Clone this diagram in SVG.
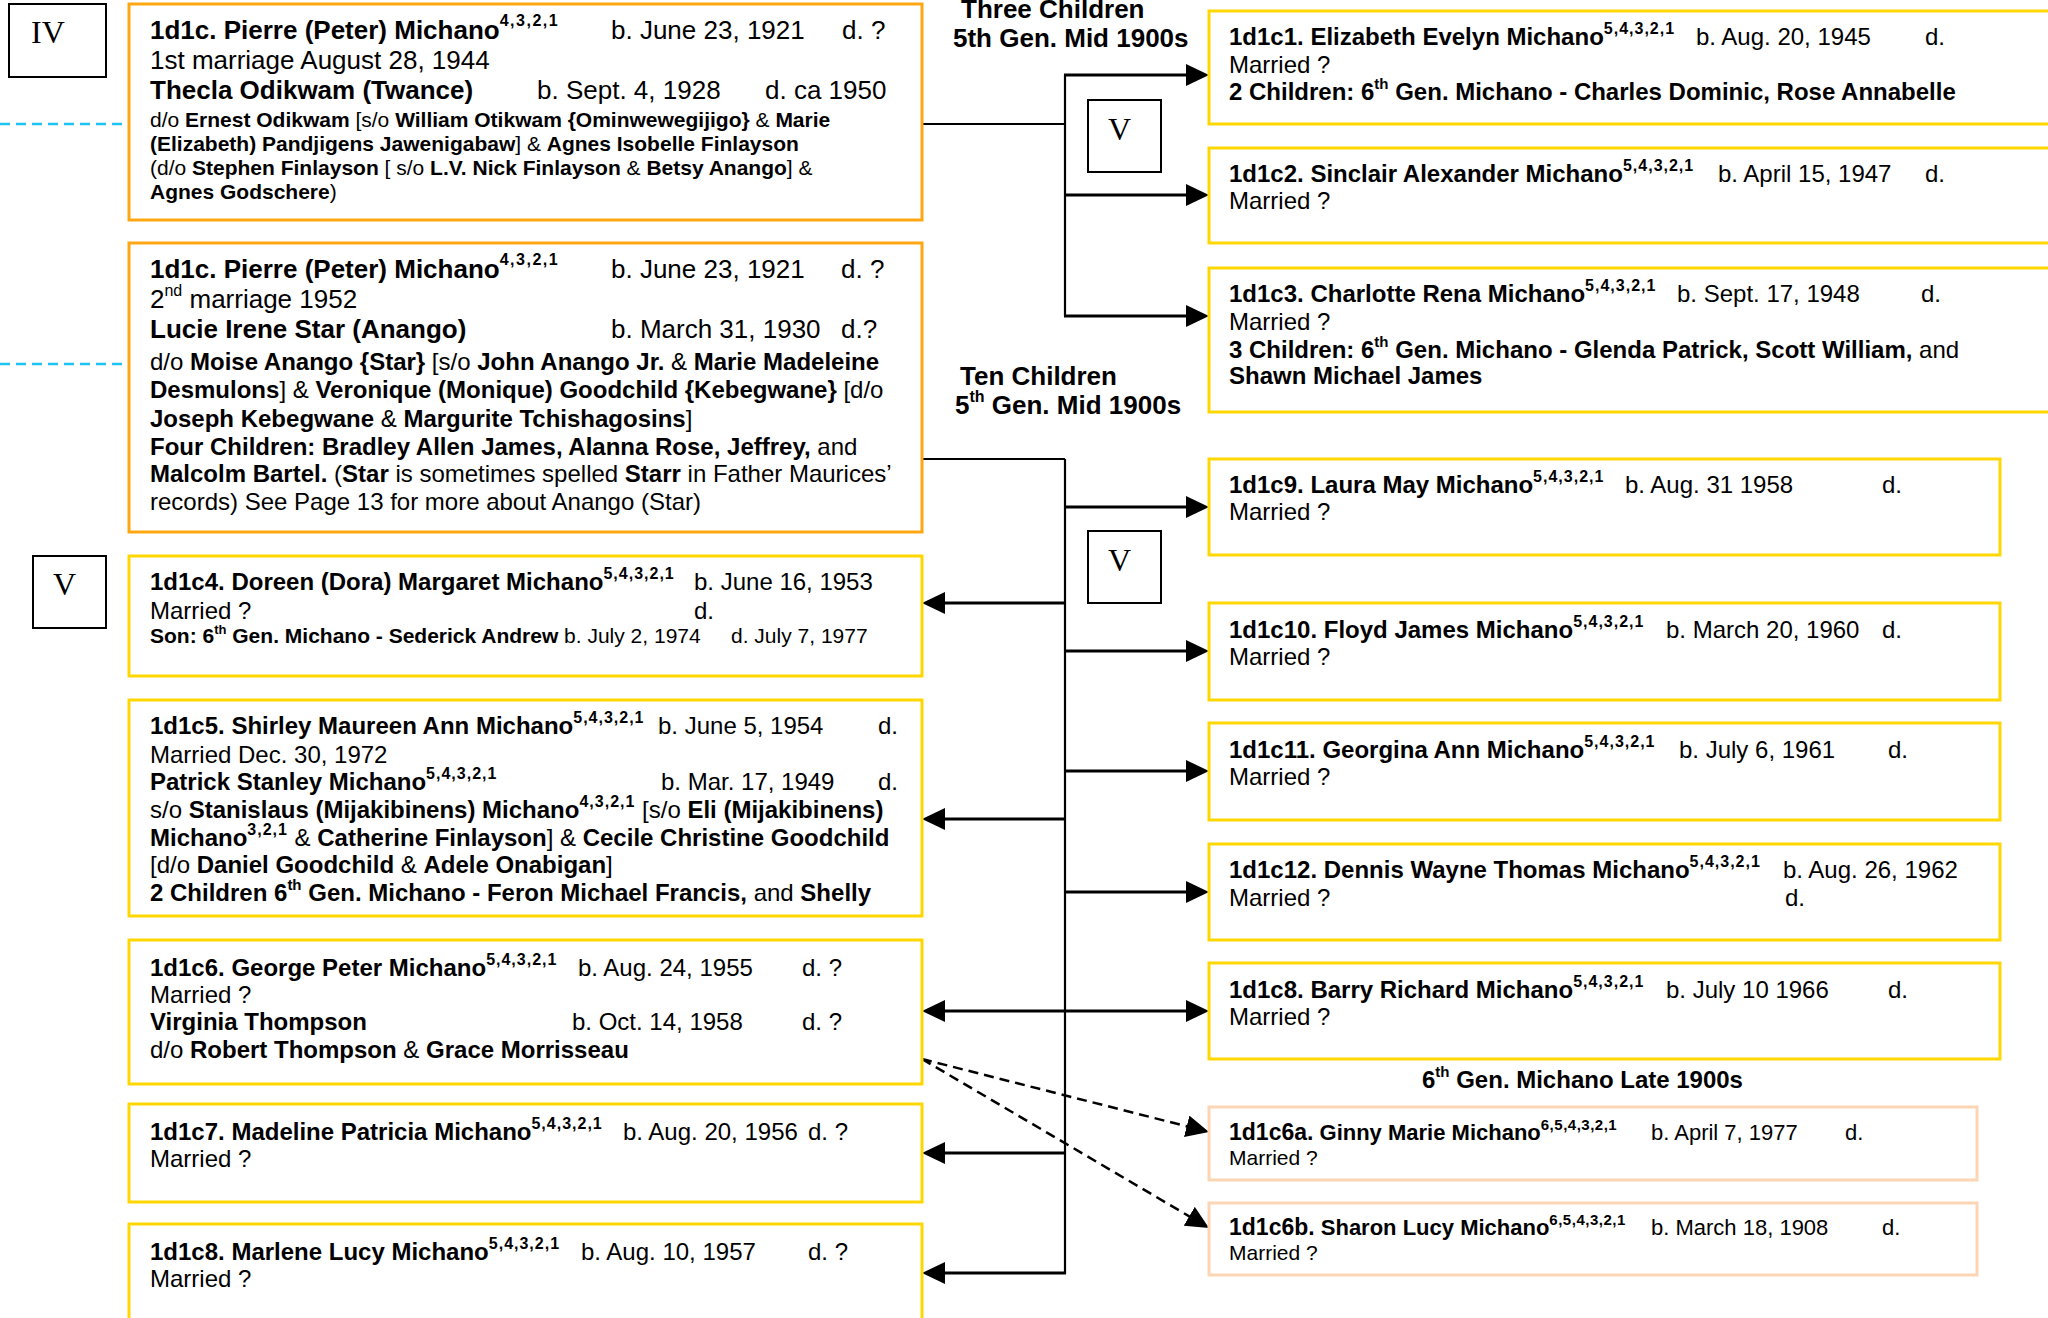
<svg xmlns="http://www.w3.org/2000/svg" width="2048" height="1318" viewBox="0 0 2048 1318">
<style>
text{font-family:"Liberation Sans",Arial,sans-serif;fill:#000}
.b{font-weight:700}
.s26{font-size:26px}
.s24{font-size:24px}
.s21{font-size:21px}
.sp{font-weight:700;font-size:16px;letter-spacing:1.5px}
.sq{font-weight:700;font-size:16px;letter-spacing:1px}
.ss{font-weight:700;font-size:15px;letter-spacing:0.5px}
.hd{font-weight:700;font-size:26px}
.rom{font-family:"Liberation Serif","Times New Roman",serif;font-size:32px}
.nd rect{fill:#fff;stroke-width:3}
.or{stroke:#FFA614}
.ye{stroke:#FFD700}
.pe{stroke:#FCD5B4}
.rb{fill:#fff;stroke:#000;stroke-width:2}
.ln{stroke:#000;stroke-width:2.2;fill:none}
.ar{stroke:#000;stroke-width:3;fill:none;marker-end:url(#ah)}
.dl{stroke:#000;stroke-width:2.5;fill:none;stroke-dasharray:10 6;marker-end:url(#ah)}
.cy{stroke:#1EC3F0;stroke-width:2.5;fill:none;stroke-dasharray:10 6}
</style>
<defs>
<marker id="ah" viewBox="0 0 23 22" refX="13" refY="11" markerWidth="23" markerHeight="22" markerUnits="userSpaceOnUse" orient="auto-start-reverse"><path d="M0,0 L23,11 L0,22 z" fill="#000"/></marker>
</defs>
<rect width="2048" height="1318" fill="#fff"/>

<g id="labels">
<g id="lbl-IV"><rect class="rb" x="9" y="4" width="97" height="73"/><text class="rom" x="31" y="43">IV</text></g>
<g id="lbl-V1"><rect class="rb" x="33" y="556" width="73" height="72"/><text class="rom" x="53" y="595">V</text></g>
<g id="lbl-V2"><rect class="rb" x="1088" y="100" width="73" height="72"/><text class="rom" x="1108" y="140">V</text></g>
<g id="lbl-V3"><rect class="rb" x="1088" y="531" width="73" height="72"/><text class="rom" x="1108" y="571">V</text></g>
<text class="hd" x="961" y="18">Three Children</text>
<text class="hd" x="953" y="47">5th Gen. Mid 1900s</text>
<text class="hd" x="960" y="385">Ten Children</text>
<text class="hd" x="955" y="414">5<tspan font-size="16" dy="-12">th</tspan><tspan dy="12"> Gen. Mid 1900s</tspan></text>
<text class="b s24" x="1422" y="1088">6<tspan font-size="15" dy="-11">th</tspan><tspan dy="11"> Gen. Michano Late 1900s</tspan></text>
</g>

<g id="connectors">
<line class="cy" x1="0" y1="124" x2="128" y2="124"/>
<line class="cy" x1="0" y1="364" x2="128" y2="364"/>
<line class="ln" x1="922" y1="124" x2="1065" y2="124"/>
<line class="ln" x1="1065" y1="75" x2="1065" y2="316"/>
<line class="ar" x1="1064" y1="75" x2="1199" y2="75"/>
<line class="ar" x1="1065" y1="195" x2="1199" y2="195"/>
<line class="ar" x1="1064" y1="316" x2="1199" y2="316"/>
<line class="ln" x1="922" y1="459" x2="1065" y2="459"/>
<line class="ln" x1="1065" y1="459" x2="1065" y2="1274"/>
<line class="ar" x1="1065" y1="507" x2="1199" y2="507"/>
<line class="ar" x1="1065" y1="651" x2="1199" y2="651"/>
<line class="ar" x1="1065" y1="771" x2="1199" y2="771"/>
<line class="ar" x1="1065" y1="892" x2="1199" y2="892"/>
<line class="ar" x1="932" y1="1011" x2="1199" y2="1011" style="marker-start:url(#ah)"/>
<line class="ar" x1="1065" y1="603" x2="932" y2="603"/>
<line class="ar" x1="1065" y1="819" x2="932" y2="819"/>
<line class="ar" x1="1065" y1="1153" x2="932" y2="1153"/>
<line class="ar" x1="1066" y1="1273" x2="932" y2="1273"/>
<line class="dl" x1="922" y1="1059" x2="1199.3" y2="1129.5"/>
<line class="dl" x1="922" y1="1059" x2="1200.4" y2="1222.9"/>
</g>

<g id="n-1d1c-m1" class="nd">
<rect class="or" x="129" y="4" width="793" height="216"/>
<text class="s26" y="39"><tspan x="150" class="b">1d1c. Pierre (Peter) Michano</tspan><tspan class="sp" dy="-13">4,3,2,1</tspan><tspan x="611" dy="13">b. June 23, 1921</tspan><tspan x="842">d. ?</tspan></text>
<text class="s26" x="150" y="69">1st marriage August 28, 1944</text>
<text class="s26" y="99"><tspan x="150" class="b">Thecla Odikwam (Twance)</tspan><tspan x="537">b. Sept. 4, 1928</tspan><tspan x="765">d. ca 1950</tspan></text>
<text class="s21" x="150" y="127">d/o <tspan class="b">Ernest Odikwam</tspan> [s/o <tspan class="b">William Otikwam {Ominwewegijigo}</tspan> &amp; <tspan class="b">Marie</tspan></text>
<text class="s21" x="150" y="151"><tspan class="b">(Elizabeth) Pandjigens Jawenigabaw</tspan>] &amp; <tspan class="b">Agnes Isobelle Finlayson</tspan></text>
<text class="s21" x="150" y="175">(d/o <tspan class="b">Stephen Finlayson</tspan> [ s/o <tspan class="b">L.V. Nick Finlayson</tspan> &amp; <tspan class="b">Betsy Anango</tspan>] &amp;</text>
<text class="s21" x="150" y="199"><tspan class="b">Agnes Godschere</tspan>)</text>
</g>

<g id="n-1d1c-m2" class="nd">
<rect class="or" x="129" y="243" width="793" height="289"/>
<text class="s26" y="278"><tspan x="150" class="b">1d1c. Pierre (Peter) Michano</tspan><tspan class="sp" dy="-13">4,3,2,1</tspan><tspan x="611" dy="13">b. June 23, 1921</tspan><tspan x="841">d. ?</tspan></text>
<text class="s26" x="150" y="308">2<tspan font-size="16" dy="-12">nd</tspan><tspan dy="12"> marriage 1952</tspan></text>
<text class="s26" y="338"><tspan x="150" class="b">Lucie Irene Star (Anango)</tspan><tspan x="611">b. March 31, 1930</tspan><tspan x="841">d.?</tspan></text>
<text class="s24" x="150" y="370">d/o <tspan class="b">Moise Anango {Star}</tspan> [s/o <tspan class="b">John Anango Jr.</tspan> &amp; <tspan class="b">Marie Madeleine</tspan></text>
<text class="s24" x="150" y="398"><tspan class="b">Desmulons</tspan>] &amp; <tspan class="b">Veronique (Monique) Goodchild {Kebegwane}</tspan> [d/o</text>
<text class="s24" x="150" y="427"><tspan class="b">Joseph Kebegwane</tspan> &amp; <tspan class="b">Margurite Tchishagosins</tspan>]</text>
<text class="s24" x="150" y="455"><tspan class="b">Four Children: Bradley Allen James, Alanna Rose, Jeffrey,</tspan> and</text>
<text class="s24" x="150" y="482"><tspan class="b">Malcolm Bartel.</tspan> (<tspan class="b">Star</tspan> is sometimes spelled <tspan class="b">Starr</tspan> in Father Maurices’</text>
<text class="s24" x="150" y="510">records) See Page 13 for more about Anango (Star)</text>
</g>

<g id="n-1d1c4" class="nd">
<rect class="ye" x="129" y="556" width="793" height="120"/>
<text class="s24" y="590"><tspan x="150" class="b">1d1c4. Doreen (Dora) Margaret Michano</tspan><tspan class="sq" dy="-11">5,4,3,2,1</tspan><tspan x="694" dy="11">b. June 16, 1953</tspan></text>
<text class="s24" y="619"><tspan x="150">Married ?</tspan><tspan x="694">d.</tspan></text>
<text class="s21" y="643"><tspan x="150" class="b">Son: 6</tspan><tspan class="b" font-size="13" dy="-9">th</tspan><tspan class="b" dy="9"> Gen. Michano - Sederick Andrew</tspan> b. July 2, 1974<tspan x="731">d. July 7, 1977</tspan></text>
</g>

<g id="n-1d1c5" class="nd">
<rect class="ye" x="129" y="700" width="793" height="216"/>
<text class="s24" y="734"><tspan x="150" class="b">1d1c5. Shirley Maureen Ann Michano</tspan><tspan class="sq" dy="-11">5,4,3,2,1</tspan><tspan x="658" dy="11">b. June 5, 1954</tspan><tspan x="878">d.</tspan></text>
<text class="s24" x="150" y="763">Married Dec. 30, 1972</text>
<text class="s24" y="790"><tspan x="150" class="b">Patrick Stanley Michano</tspan><tspan class="sq" dy="-11">5,4,3,2,1</tspan><tspan x="661" dy="11">b. Mar. 17, 1949</tspan><tspan x="878">d.</tspan></text>
<text class="s24" x="150" y="818">s/o <tspan class="b">Stanislaus (Mijakibinens) Michano</tspan><tspan class="sq" dy="-11">4,3,2,1</tspan><tspan dy="11"> [s/o </tspan><tspan class="b">Eli (Mijakibinens)</tspan></text>
<text class="s24" x="150" y="846"><tspan class="b">Michano</tspan><tspan class="sq" dy="-11">3,2,1</tspan><tspan dy="11"> &amp; </tspan><tspan class="b">Catherine Finlayson</tspan>] &amp; <tspan class="b">Cecile Christine Goodchild</tspan></text>
<text class="s24" x="150" y="873">[d/o <tspan class="b">Daniel Goodchild</tspan> &amp; <tspan class="b">Adele Onabigan</tspan>]</text>
<text class="s24" x="150" y="901"><tspan class="b">2 Children 6</tspan><tspan class="b" font-size="15" dy="-11">th</tspan><tspan class="b" dy="11"> Gen. Michano - Feron Michael Francis,</tspan> and <tspan class="b">Shelly</tspan></text>
</g>

<g id="n-1d1c6" class="nd">
<rect class="ye" x="129" y="940" width="793" height="144"/>
<text class="s24" y="976"><tspan x="150" class="b">1d1c6. George Peter Michano</tspan><tspan class="sq" dy="-11">5,4,3,2,1</tspan><tspan x="578" dy="11">b. Aug. 24, 1955</tspan><tspan x="802">d. ?</tspan></text>
<text class="s24" x="150" y="1003">Married ?</text>
<text class="s24" y="1030"><tspan x="150" class="b">Virginia Thompson</tspan><tspan x="572">b. Oct. 14, 1958</tspan><tspan x="802">d. ?</tspan></text>
<text class="s24" x="150" y="1058">d/o <tspan class="b">Robert Thompson</tspan> &amp; <tspan class="b">Grace Morrisseau</tspan></text>
</g>

<g id="n-1d1c7" class="nd">
<rect class="ye" x="129" y="1104" width="793" height="98"/>
<text class="s24" y="1140"><tspan x="150" class="b">1d1c7. Madeline Patricia Michano</tspan><tspan class="sq" dy="-11">5,4,3,2,1</tspan><tspan x="623" dy="11">b. Aug. 20, 1956</tspan><tspan x="808">d. ?</tspan></text>
<text class="s24" x="150" y="1167">Married ?</text>
</g>

<g id="n-1d1c8-marlene" class="nd">
<rect class="ye" x="129" y="1224" width="793" height="120"/>
<text class="s24" y="1260"><tspan x="150" class="b">1d1c8. Marlene Lucy Michano</tspan><tspan class="sq" dy="-11">5,4,3,2,1</tspan><tspan x="581" dy="11">b. Aug. 10, 1957</tspan><tspan x="808">d. ?</tspan></text>
<text class="s24" x="150" y="1287">Married ?</text>
</g>

<g id="n-1d1c1" class="nd">
<rect class="ye" x="1209" y="11" width="900" height="113"/>
<text class="s24" y="45"><tspan x="1229" class="b">1d1c1. Elizabeth Evelyn Michano</tspan><tspan class="sq" dy="-11">5,4,3,2,1</tspan><tspan x="1696" dy="11">b. Aug. 20, 1945</tspan><tspan x="1925">d.</tspan></text>
<text class="s24" x="1229" y="73">Married ?</text>
<text class="s24 b" x="1229" y="100">2 Children: 6<tspan font-size="15" dy="-11">th</tspan><tspan dy="11"> Gen. Michano - Charles Dominic, Rose Annabelle</tspan></text>
</g>

<g id="n-1d1c2" class="nd">
<rect class="ye" x="1209" y="148" width="900" height="95"/>
<text class="s24" y="182"><tspan x="1229" class="b">1d1c2. Sinclair Alexander Michano</tspan><tspan class="sq" dy="-11">5,4,3,2,1</tspan><tspan x="1718" dy="11">b. April 15, 1947</tspan><tspan x="1925">d.</tspan></text>
<text class="s24" x="1229" y="209">Married ?</text>
</g>

<g id="n-1d1c3" class="nd">
<rect class="ye" x="1209" y="268" width="900" height="144"/>
<text class="s24" y="302"><tspan x="1229" class="b">1d1c3. Charlotte Rena Michano</tspan><tspan class="sq" dy="-11">5,4,3,2,1</tspan><tspan x="1677" dy="11">b. Sept. 17, 1948</tspan><tspan x="1921">d.</tspan></text>
<text class="s24" x="1229" y="330">Married ?</text>
<text class="s24" x="1229" y="358"><tspan class="b">3 Children: 6</tspan><tspan class="b" font-size="15" dy="-11">th</tspan><tspan class="b" dy="11"> Gen. Michano - Glenda Patrick, Scott William,</tspan> and</text>
<text class="s24 b" x="1229" y="384">Shawn Michael James</text>
</g>

<g id="n-1d1c9" class="nd">
<rect class="ye" x="1209" y="459" width="791" height="96"/>
<text class="s24" y="493"><tspan x="1229" class="b">1d1c9. Laura May Michano</tspan><tspan class="sq" dy="-11">5,4,3,2,1</tspan><tspan x="1625" dy="11">b. Aug. 31 1958</tspan><tspan x="1882">d.</tspan></text>
<text class="s24" x="1229" y="520">Married ?</text>
</g>

<g id="n-1d1c10" class="nd">
<rect class="ye" x="1209" y="603" width="791" height="97"/>
<text class="s24" y="638"><tspan x="1229" class="b">1d1c10. Floyd James Michano</tspan><tspan class="sq" dy="-11">5,4,3,2,1</tspan><tspan x="1666" dy="11">b. March 20, 1960</tspan><tspan x="1882">d.</tspan></text>
<text class="s24" x="1229" y="665">Married ?</text>
</g>

<g id="n-1d1c11" class="nd">
<rect class="ye" x="1209" y="723" width="791" height="97"/>
<text class="s24" y="758"><tspan x="1229" class="b">1d1c11. Georgina Ann Michano</tspan><tspan class="sq" dy="-11">5,4,3,2,1</tspan><tspan x="1679" dy="11">b. July 6, 1961</tspan><tspan x="1888">d.</tspan></text>
<text class="s24" x="1229" y="785">Married ?</text>
</g>

<g id="n-1d1c12" class="nd">
<rect class="ye" x="1209" y="844" width="791" height="96"/>
<text class="s24" y="878"><tspan x="1229" class="b">1d1c12. Dennis Wayne Thomas Michano</tspan><tspan class="sq" dy="-11">5,4,3,2,1</tspan><tspan x="1783" dy="11">b. Aug. 26, 1962</tspan></text>
<text class="s24" y="906"><tspan x="1229">Married ?</tspan><tspan x="1785">d.</tspan></text>
</g>

<g id="n-1d1c8-barry" class="nd">
<rect class="ye" x="1209" y="963" width="791" height="96"/>
<text class="s24" y="998"><tspan x="1229" class="b">1d1c8. Barry Richard Michano</tspan><tspan class="sq" dy="-11">5,4,3,2,1</tspan><tspan x="1666" dy="11">b. July 10 1966</tspan><tspan x="1888">d.</tspan></text>
<text class="s24" x="1229" y="1025">Married ?</text>
</g>

<g id="n-1d1c6a" class="nd">
<rect class="pe" x="1209" y="1107" width="768" height="73"/>
<text class="s21" y="1140"><tspan x="1229" class="b" font-size="23">1d1c6a.</tspan><tspan class="b" font-size="22"> Ginny Marie Michano</tspan><tspan class="ss" dy="-10">6,5,4,3,2,1</tspan><tspan x="1651" dy="10" font-size="22">b. April 7, 1977</tspan><tspan x="1845" font-size="22">d.</tspan></text>
<text class="s21" x="1229" y="1165">Married ?</text>
</g>

<g id="n-1d1c6b" class="nd">
<rect class="pe" x="1209" y="1203" width="768" height="72"/>
<text class="s21" y="1235"><tspan x="1229" class="b" font-size="23">1d1c6b.</tspan><tspan class="b" font-size="22"> Sharon Lucy Michano</tspan><tspan class="ss" dy="-10">6,5,4,3,2,1</tspan><tspan x="1651" dy="10" font-size="22">b. March 18, 1908</tspan><tspan x="1882" font-size="22">d.</tspan></text>
<text class="s21" x="1229" y="1260">Married ?</text>
</g>
</svg>
